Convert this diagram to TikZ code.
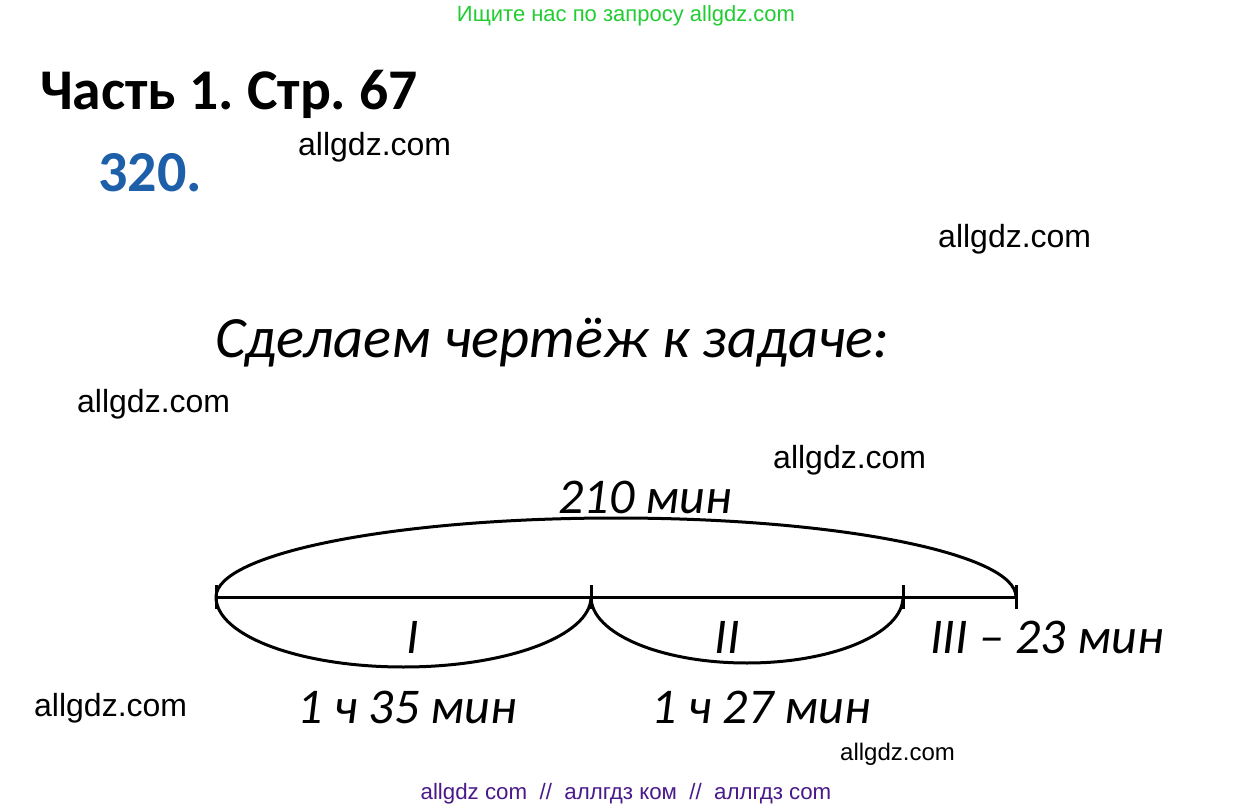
\documentclass[tikz,border=0pt]{standalone}
\usepackage{fontspec}
\setmainfont{Carlito}
\newfontfamily\wmfont{Liberation Sans}
\definecolor{wmgreen}{RGB}{34,204,51}
\definecolor{numblue}{RGB}{30,95,170}
\definecolor{wmpurple}{RGB}{75,26,138}
\frenchspacing
\tikzset{
  wm/.style={anchor=base west, inner sep=0pt, font=\wmfont\fontsize{32}{36}\selectfont},
  hand/.style={inner sep=0pt, font=\itshape\fontsize{50}{56}\selectfont},
  seg/.style={line width=3pt},
  tick/.style={line width=3pt},
}
\begin{document}
\begin{tikzpicture}[x=1pt,y=-1pt]
\useasboundingbox (0,0) rectangle (1253,810);
\fill[white] (0,0) rectangle (1253,810);
% header / footer
\node[anchor=base, inner sep=0pt, text=wmgreen, font=\wmfont\fontsize{22}{26}\selectfont] (hdr) at (626,22) {Ищите нас по запросу allgdz.com};
\node[anchor=base, inner sep=0pt, text=wmpurple, font=\wmfont\fontsize{22.3}{26}\selectfont] (ftr) at (626,799) {allgdz com \ // \ аллгдз ком \ // \ аллгдз com};
% titles
\node[anchor=base west, inner sep=0pt, font=\bfseries\fontsize{57.6}{64}\selectfont] (title) at (40,110) {Часть 1. Стр. 67};
\node[anchor=base west, inner sep=0pt, text=numblue, font=\bfseries\fontsize{58}{64}\selectfont] (num) at (98,192) {320.};
% watermarks
\node[wm] (w1) at (298,156) {allgdz.com};
\node[wm] (w2) at (938,248) {allgdz.com};
\node[wm] (w3) at (77,412) {allgdz.com};
\node[wm] (w4) at (773,468) {allgdz.com};
\node[wm] (w5) at (34,716) {allgdz.com};
\node[wm, font=\wmfont\fontsize{24}{28}\selectfont] (w6) at (840,760) {allgdz.com};
% heading
\node[hand, anchor=base west, font=\itshape\fontsize{58.5}{64}\selectfont] (head) at (215,357) {Сделаем чертёж к задаче:};
% segment
\coordinate (A) at (216,597);
\coordinate (B) at (591,597);
\coordinate (C) at (903,597);
\coordinate (D) at (1016,597);
\draw[seg] (A) -- (D);
\foreach \p in {A,B,C,D} {\draw[tick] ([yshift=-12]\p) -- ([yshift=12]\p);}
\draw[seg] (A) arc[start angle=180, end angle=360, x radius=400, y radius=79];
\draw[seg] (A) arc[start angle=180, end angle=0, x radius=187.5, y radius=70];
\draw[seg] (B) arc[start angle=180, end angle=0, x radius=156, y radius=66];
% labels
\node[hand, anchor=base] (l210) at (645,513) {210 мин};
\node[hand, anchor=base] (lI) at (413,653) {I};
\node[hand, anchor=base] (lII) at (727,653) {II};
\node[hand, anchor=base west] (lIII) at (930,653) {III – 23 мин};
\node[hand, anchor=base] (l135) at (407,723) {1 ч 35 мин};
\node[hand, anchor=base] (l127) at (761,723) {1 ч 27 мин};
\end{tikzpicture}
\end{document}
